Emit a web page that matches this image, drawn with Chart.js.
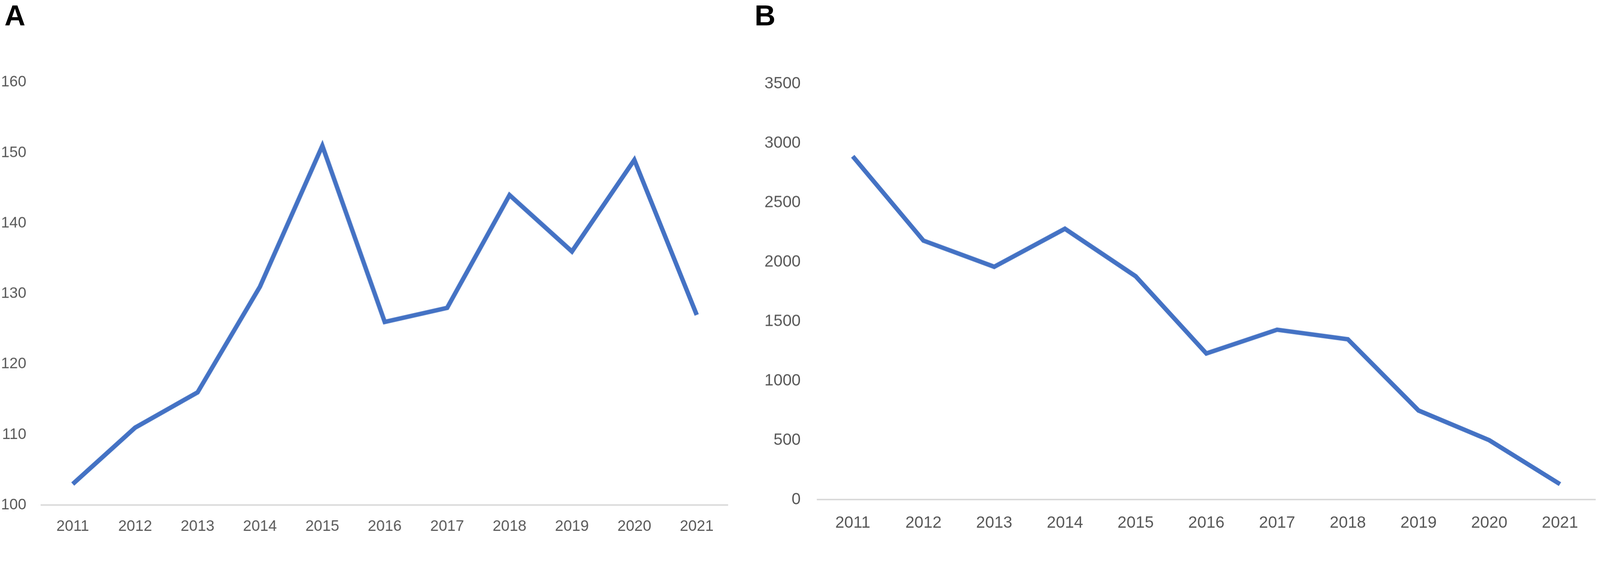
<!DOCTYPE html>
<html>
<head>
<meta charset="utf-8">
<script src="https://cdn.jsdelivr.net/npm/chart.js@4.4.1/dist/chart.umd.min.js"></script>
<style>
    html, body { margin: 0; padding: 0; background: #fff; overflow: hidden; }
    .box { position: absolute; top: 0; }
    .panel-label { position: absolute; font-family: "Liberation Sans", Arial, sans-serif; font-weight: bold; line-height: 1; color: #000; }
</style>
</head>
<body>
<div class="panel-label" id="labelA">A</div>
<div class="panel-label" id="labelB">B</div>
<div class="box" id="boxA"><canvas id="chartA"></canvas></div>
<div class="box" id="boxB"><canvas id="chartB"></canvas></div>
<script>
const years = ['2011', '2012', '2013', '2014', '2015', '2016', '2017', '2018', '2019', '2020', '2021'];
const seriesA = [103, 111, 116, 131, 151, 126, 128, 144, 136, 149, 127];
const seriesB = [2890, 2180, 1960, 2280, 1880, 1230, 1430, 1350, 750, 500, 130];
const rangeA = { min: 100, max: 160, step: 10 };
const rangeB = { min: 0, max: 3500, step: 500 };

// the layout was measured on a 4317px wide picture; scale it to the real viewport
const k = window.innerWidth / 4317;
const H = 1449;

function place(el, left, top, width, height) {
    el.style.left = left * k + 'px';
    el.style.top = top * k + 'px';
    if (width) el.style.width = width * k + 'px';
    if (height) el.style.height = height * k + 'px';
}

const labelA = document.getElementById('labelA');
const labelB = document.getElementById('labelB');
labelA.style.fontSize = labelB.style.fontSize = 78 * k + 'px';
place(labelA, 12, 3);
place(labelB, 2036, 3);

function makeChart(id, boxId, data, range, o) {
    place(document.getElementById(boxId), o.left, 0, o.width, H);
    const font = { family: '"Liberation Sans", Arial, sans-serif', size: o.fontSize * k };
    return new Chart(document.getElementById(id), {
        type: 'line',
        data: {
            labels: years,
            datasets: [{
                data,
                borderColor: '#4472C4',
                borderWidth: 12 * k,
                pointRadius: 0,
                tension: 0,
                borderJoinStyle: 'miter',
                fill: false
            }]
        },
        options: {
            responsive: true,
            maintainAspectRatio: false,
            animation: false,
            layout: { padding: { top: o.top * k, right: o.right * k, bottom: 0, left: 0 } },
            plugins: { legend: { display: false }, tooltip: { enabled: false } },
            scales: {
                x: {
                    offset: true,
                    grid: { display: false, drawTicks: false },
                    border: { display: true, color: '#d9d9d9', width: 4 * k },
                    ticks: { color: '#595959', font, padding: o.xPad * k, maxRotation: 0, autoSkip: false },
                    afterFit: s => { s.height = (H - o.bottom) * k; }
                },
                y: {
                    min: range.min,
                    max: range.max,
                    grid: { display: false, drawTicks: false },
                    border: { display: false },
                    ticks: { stepSize: range.step, color: '#595959', font, padding: o.yPad * k, callback: v => String(v) },
                    afterFit: s => { s.width = o.yWidth * k; }
                }
            }
        }
    });
}

makeChart('chartA', 'boxA', seriesA, rangeA,
    { left: 0, width: 2000, top: 222, right: 37, bottom: 1362, yWidth: 112, yPad: 41, xPad: 33, fontSize: 41 });
makeChart('chartB', 'boxB', seriesB, rangeB,
    { left: 2000, width: 2317, top: 226, right: 13, bottom: 1347, yWidth: 205, yPad: 45, xPad: 37, fontSize: 44 });
</script>
</body>
</html>
